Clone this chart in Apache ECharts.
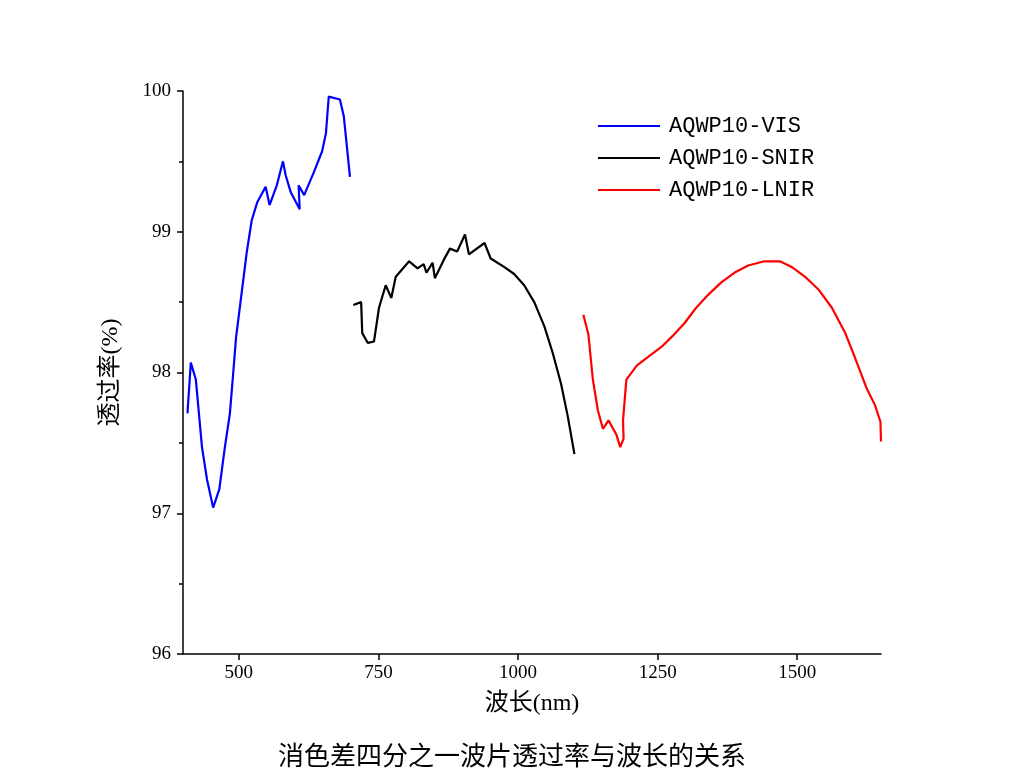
<!DOCTYPE html>
<html>
<head>
<meta charset="utf-8">
<script src="https://cdn.jsdelivr.net/npm/echarts@6/dist/echarts.min.js"></script>
<style>html,body{margin:0;background:#fff}#chart{width:1024px;height:784px}</style>
</head>
<body>
<div id="chart"></div>
<script>
// 数据
var visData = [[408,97.71],[414,98.07],[423,97.95],[434,97.47],[443,97.24],[454,97.04],[465,97.17],[475,97.47],[484,97.71],[490,98.0],[495,98.25],[502,98.47],[514,98.85],[523,99.08],[533,99.21],[548,99.32],[555,99.19],[568,99.33],[579,99.50],[584,99.40],[593,99.28],[609,99.16],[607,99.33],[617,99.26],[634,99.42],[649,99.57],[656,99.70],[661,99.96],[681,99.94],[688,99.82],[699,99.39]];
var snirData = [[705,98.48],[719,98.50],[721,98.28],[731,98.21],[742,98.22],[751,98.46],[763,98.62],[773,98.53],[781,98.68],[805,98.79],[820,98.74],[831,98.77],[836,98.71],[847,98.78],[851,98.67],[867,98.80],[878,98.88],[891,98.86],[905,98.98],[912,98.84],[940,98.92],[951,98.81],[975,98.75],[993,98.70],[1011,98.62],[1029,98.50],[1047,98.33],[1062,98.14],[1077,97.92],[1089,97.69],[1101,97.42]];
var lnirData = [[1117,98.41],[1126,98.27],[1134,97.95],[1143,97.73],[1152,97.60],[1162,97.66],[1176,97.56],[1183,97.47],[1189,97.53],[1188,97.66],[1194,97.95],[1213,98.05],[1236,98.12],[1259,98.19],[1277,98.26],[1298,98.35],[1319,98.46],[1340,98.55],[1364,98.64],[1388,98.71],[1412,98.76],[1441,98.79],[1469,98.79],[1490,98.75],[1514,98.68],[1538,98.59],[1562,98.46],[1586,98.28],[1603,98.11],[1624,97.89],[1639,97.77],[1649,97.65],[1650,97.51]];
var xTicks = [500, 750, 1000, 1250, 1500];
var seriesNames = ['AQWP10-VIS', 'AQWP10-SNIR', 'AQWP10-LNIR'];

var chart = echarts.init(document.getElementById('chart'));
var serif = 'Liberation Serif, "Noto Sans CJK SC", serif';
var option = {
    animation: false,
    title: {
        text: '消色差四分之一波片透过率与波长的关系',
        left: 'center',
        top: 740,
        textStyle: {fontFamily: serif, fontSize: 26, fontWeight: 'normal', color: '#000'}
    },
    legend: {
        data: seriesNames,
        orient: 'vertical',
        left: 593, top: 110,
        itemWidth: 62, itemHeight: 2, itemGap: 10,
        icon: 'rect',
        textStyle: {fontFamily: 'Liberation Mono, monospace', fontSize: 22, color: '#000', padding: [0, 0, 0, 4]}
    },
    grid: {left: 183, right: 143, top: 91, bottom: 130},
    xAxis: {
        type: 'value', min: 400, max: 1650,
        name: '波长(nm)', nameLocation: 'middle', nameGap: 38,
        nameTextStyle: {fontFamily: serif, fontSize: 24, color: '#000'},
        axisLine: {lineStyle: {color: '#000', width: 1.5}},
        axisTick: {inside: false, length: 6, customValues: xTicks, lineStyle: {color: '#000', width: 1.5}},
        axisLabel: {customValues: xTicks, formatter: function (v) { return String(v); }, fontFamily: serif, fontSize: 19, color: '#000', margin: 10},
        splitLine: {show: false}
    },
    yAxis: {
        type: 'value', min: 96, max: 100, interval: 1,
        name: '透过率(%)', nameLocation: 'middle', nameGap: 60,
        nameTextStyle: {fontFamily: serif, fontSize: 24, color: '#000'},
        axisLine: {show: true, lineStyle: {color: '#000', width: 1.5}},
        axisTick: {show: true, length: 6, lineStyle: {color: '#000', width: 1.5}},
        minorTick: {show: true, splitNumber: 2, length: 4, lineStyle: {color: '#000', width: 1.5}},
        axisLabel: {fontFamily: serif, fontSize: 19, color: '#000', margin: 12},
        splitLine: {show: false}
    },
    series: [
        {name: seriesNames[0], type: 'line', data: visData, showSymbol: false, lineStyle: {color: '#0000ff', width: 2.2}, itemStyle: {color: '#0000ff'}},
        {name: seriesNames[1], type: 'line', data: snirData, showSymbol: false, lineStyle: {color: '#000000', width: 2.2}, itemStyle: {color: '#000000'}},
        {name: seriesNames[2], type: 'line', data: lnirData, showSymbol: false, lineStyle: {color: '#ff0000', width: 2.2}, itemStyle: {color: '#ff0000'}}
    ]
};
chart.setOption(option);
</script>
</body>
</html>
